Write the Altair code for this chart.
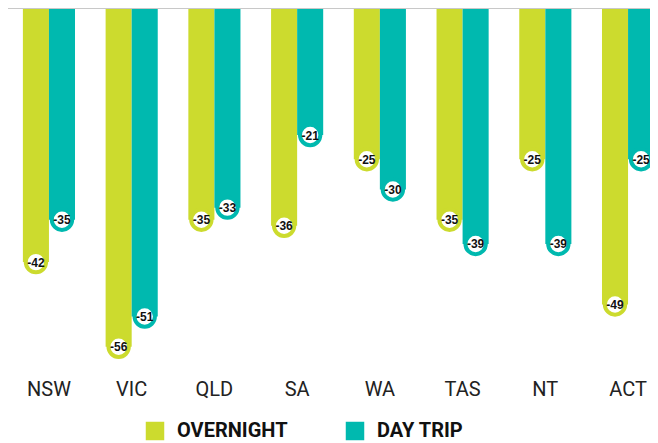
import altair as alt
import pandas as pd

states = ["NSW", "VIC", "QLD", "SA", "WA", "TAS", "NT", "ACT"]
overnight = [-42, -56, -35, -36, -25, -35, -25, -49]
day_trip = [-35, -51, -33, -21, -30, -39, -39, -25]
series_names = ["OVERNIGHT", "DAY TRIP"]
series_colors = ["#CCDB2E", "#00B9AF"]

rows = []
for s, o, d in zip(states, overnight, day_trip):
    rows.append({"state": s, "series": series_names[0], "value": o})
    rows.append({"state": s, "series": series_names[1], "value": d})
df = pd.DataFrame(rows)

W, H = 642, 433
color_scale = alt.Scale(domain=series_names, range=series_colors)
x_enc = alt.X(
    "state:N",
    sort=states,
    scale=alt.Scale(range=[0, 661], paddingInner=0.37, paddingOuter=0.18),
    axis=alt.Axis(
        title=None, orient="bottom", ticks=False, domain=False, labelAngle=0,
        labelFont="Roboto", labelFontSize=20, labelColor="#222222",
        labelPadding=0, offset=-(H - 371),
    ),
)
xoff_enc = alt.XOffset("series:N", sort=series_names,
                       scale=alt.Scale(paddingInner=0, paddingOuter=0))
y_scale = alt.Scale(domain=[-60, 0], range=[363, 0], nice=False)
y_enc = alt.Y("value:Q", scale=y_scale, axis=None)

base = alt.Chart(df)

bars = base.mark_bar().encode(
    x=x_enc,
    xOffset=xoff_enc,
    y=y_enc,
    color=alt.Color(
        "series:N", scale=color_scale, sort=series_names,
        legend=alt.Legend(
            title=None, orient="none", direction="horizontal",
            legendX=137, legendY=413, padding=0,
            symbolType="square", symbolSize=342, symbolStrokeWidth=0,
            symbolOpacity=1,
            labelFont="Roboto", labelFontSize=20, labelFontWeight="bold",
            labelColor="#111111", labelOffset=12, columnPadding=57,
            labelLimit=300,
        ),
    ),
)

rule = alt.Chart(pd.DataFrame({"z": [0]})).mark_rule(
    color="#c8c8c8", strokeWidth=2
).encode(y=alt.Y("z:Q", scale=y_scale, axis=None))

circles = base.mark_point(
    shape="circle", size=415, fill="white", fillOpacity=1, strokeWidth=4, opacity=1
).encode(
    x=x_enc,
    xOffset=xoff_enc,
    y=y_enc,
    stroke=alt.Stroke("series:N", scale=color_scale, sort=series_names, legend=None),
)

labels = base.transform_calculate(
    label="'' + datum.value"
).mark_text(
    font="Liberation Sans", fontSize=12, fontWeight="bold", color="#111111",
    baseline="middle", align="center", dy=0.5,
).encode(
    x=x_enc,
    xOffset=xoff_enc,
    y=y_enc,
    text="label:N",
)

chart = alt.layer(bars, rule, circles, labels).properties(
    width=W, height=H, padding=0,
    autosize=alt.AutoSizeParams(type="none"),
).configure_view(stroke=None)

chart.save("out.html", embed_options={"renderer": "svg", "actions": False})
